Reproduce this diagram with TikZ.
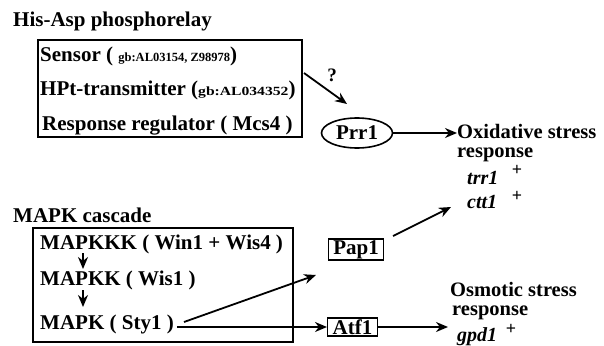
\documentclass[tikz,border=0pt]{standalone}
\usepackage{fontspec}
\setmainfont{Liberation Serif}
\usetikzlibrary{arrows.meta,shapes.geometric}
\newcommand{\gbtxt}[2]{\scalebox{#1}[1]{\fontsize{12.5}{14}\selectfont\bfseries #2}}
\begin{document}
\begin{tikzpicture}[x=1pt,y=-1pt,
  txt/.style={anchor=base west,inner sep=0pt,font=\fontsize{21}{23}\selectfont\bfseries},
  rtxt/.style={anchor=base west,inner sep=0pt,font=\fontsize{20.5}{22}\selectfont\bfseries},
  gene/.style={anchor=base west,inner sep=0pt,font=\fontsize{20}{22}\selectfont\bfseries\itshape},
  plus/.style={inner sep=0pt,font=\fontsize{18}{19}\selectfont\bfseries},
  frame/.style={draw,line width=1.6pt,inner sep=0pt},
  smallbox/.style={draw,line width=1.4pt,inner xsep=5pt,inner ysep=1.5pt,font=\fontsize{21}{23}\selectfont\bfseries},
  arr/.style={line width=1.8pt,-{Stealth[length=12pt,width=10pt]}}
]
\useasboundingbox (0,0) rectangle (604,345);
% His-Asp phosphorelay
\node[txt] (t1) at (13,27) {His-Asp phosphorelay};
\node[frame,minimum width=264pt,minimum height=97pt] (box1) at (170,88.5) {};
\node[txt] (s1) at (40,62) {Sensor ( \gbtxt{1.0}{gb:AL03154, Z98978})};
\node[txt] (s2) at (40,95) {HPt-transmitter (\gbtxt{1.25}{gb:AL034352})};
\node[txt] (s3) at (42,130) {Response regulator ( Mcs4 )};
% Prr1
\node[draw,ellipse,line width=1.6pt,minimum width=71pt,minimum height=30pt,inner sep=0pt,font=\fontsize{21}{23}\selectfont\bfseries] (prr1) at (357,133) {Prr1};
\coordinate (qs) at (304,73);
\coordinate (qe) at (347,104);
\draw[arr] (qs) -- (qe);
\node[font=\fontsize{19}{20}\selectfont\bfseries,inner sep=0pt] (q) at (332,75) {?};
% Oxidative
\node[rtxt] (ox1) at (457,138) {Oxidative stress};
\node[rtxt] (ox2) at (457,157) {response};
\node[gene] (trr) at (467,184) {trr1};
\node[plus] (p1) at (517,170) {+};
\node[gene] (ctt) at (467,208) {ctt1};
\node[plus] (p2) at (517,196) {+};
\draw[arr] (prr1.east) -- (ox1.west |- prr1.east);
% MAPK cascade
\node[txt] (t2) at (13,222) {MAPK cascade};
\node[frame,minimum width=260pt,minimum height=114pt] (box2) at (163,285) {};
\node[txt] (m1) at (40,249) {MAPKKK ( Win1 + Wis4 )};
\node[txt] (m2) at (40,285) {MAPKK ( Wis1 )};
\node[txt] (m3) at (40,329) {MAPK ( Sty1 )};
\draw[arr] (83,253) -- (83,269);
\draw[arr] (83,290) -- (83,307);
% Pap1 / Atf1
\node[smallbox] (pap) at (356,249.5) {Pap1};
\node[smallbox] (atf) at (352.5,327) {Atf1};
\coordinate (ms) at (184,322);
\coordinate (pe) at (316,275);
\draw[arr] (ms) -- (pe);
\draw[arr] (m3.east |- atf.west) ++(3,0) -- (atf.west);
\coordinate (ps) at (393,236);
\coordinate (ce) at (451,207);
\draw[arr] (ps) -- (ce);
% Osmotic
\node[rtxt] (os1) at (450,296) {Osmotic stress};
\node[rtxt] (os2) at (452,315) {response};
\node[gene] (gpd) at (457,341) {gpd1};
\node[plus] (p3) at (511,329) {+};
\draw[arr] (atf.east) -- (448,327);
\end{tikzpicture}
\end{document}
